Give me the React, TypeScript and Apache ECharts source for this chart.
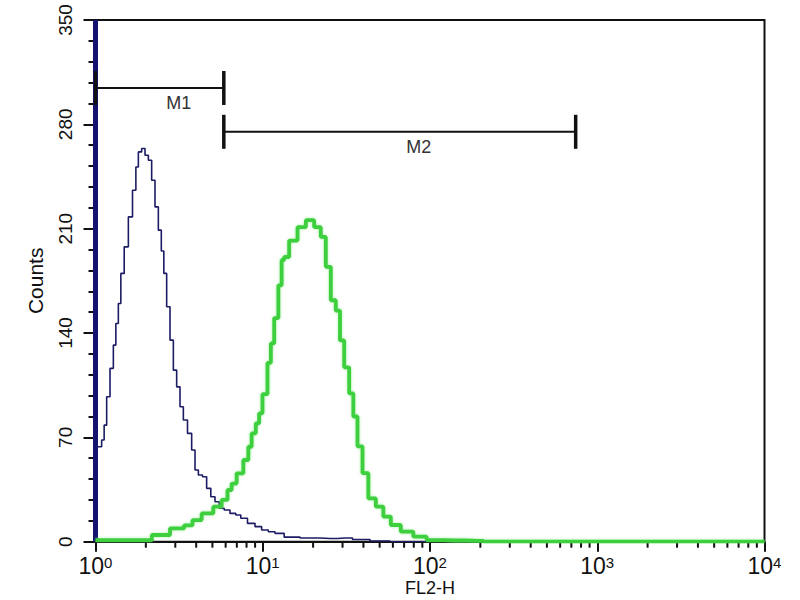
import React, { useEffect, useRef } from "react";
import * as echarts from "echarts";

// ---- data (channel value on FL2-H, counts) ----
const blueFirstChannel: [number, number][] = [
  [1, 0],
  [1, 350],
];

const blueCounts: [number, number][] = [
  [1.02, 63.7], [1.064, 63.7], [1.113, 68.2], [1.14, 78.2], [1.193, 97.2], [1.25, 116.3],
  [1.308, 131.9], [1.339, 146.4], [1.401, 159.8], [1.434, 180.0], [1.537, 197.8], [1.608, 217.9],
  [1.723, 235.8], [1.764, 251.4], [1.845, 261.5], [1.931, 263.8], [2.024, 259.3], [2.118, 255.9],
  [2.216, 242.5], [2.322, 224.6], [2.43, 209.0], [2.52, 195.0], [2.604, 180.0], [2.725, 157.6],
  [2.855, 135.2], [2.988, 115.1], [3.127, 103.9], [3.277, 90.5], [3.428, 81.6], [3.673, 72.7],
  [3.845, 61.5], [4.029, 48.1], [4.216, 44.7], [4.515, 43.6], [4.725, 35.8], [5.063, 30.2],
  [5.305, 26.8], [5.682, 22.4], [6.086, 21.3], [6.667, 19.0], [7.142, 17.9], [7.65, 15.7],
  [8.589, 12.3], [9.406, 10.1], [10.31, 7.8], [11.31, 6.7], [12.39, 5.6], [14.55, 3.1],
  [19.17, 2.5], [25.24, 2.1], [31.03, 2.5], [38.15, 1.5], [50.24, 0.5], [66.16, 0], [100, 0],
];

const greenCounts: [number, number][] = [
  [1, 1], [1.897, 1], [2.488, 4.5], [3.127, 9], [3.673, 11], [3.935, 14.5], [4.725, 19],
  [5.423, 23.5], [5.946, 28], [6.371, 34.7], [6.667, 39], [7.311, 45.9], [8.017, 54.8],
  [8.389, 63.7], [8.78, 72.7], [9.406, 79.4], [9.629, 86.1], [10.31, 99], [11.05, 120],
  [11.31, 133], [12.12, 150], [12.68, 172], [13.27, 189], [13.59, 191], [15.23, 202],
  [17.1, 211], [19.17, 215.7], [21.48, 211], [23.01, 204.5], [24.66, 184.4], [26.42, 162],
  [28.29, 155], [29.65, 135], [31.76, 117], [34.02, 99.5], [35.61, 84], [38.15, 64],
  [40.87, 46], [44.81, 29], [50.24, 23.5], [55.09, 16.8], [61.74, 11.2], [72.54, 6.7],
  [87.15, 3.4], [104.6, 1.1], [141, 0.8], [191, 0.6], [229, 0], [10000, 0],
];

// marker gates: [start, end, level]
const markerSpans: [number, number, number][] = [
  [1, 5.85, 304.4],
  [5.85, 743, 275],
];
const markerNames = ["M1", "M2"];

const xMinorTicks: number[] = [
  2, 3, 4, 5, 6, 7, 8, 9,
  20, 30, 40, 50, 60, 70, 80, 90,
  200, 300, 400, 500, 600, 700, 800, 900,
  2000, 3000, 4000, 5000, 6000, 7000, 8000, 9000,
];

const yMin = 0;
const yMax = 350;
const yInterval = 70;
const xMin = 1;
const xMax = 10000;

const FONT = '"Liberation Sans", Arial, sans-serif';
const INK = "#111111";

export default function App() {
  const ref = useRef<HTMLDivElement>(null);

  useEffect(() => {
    if (!ref.current) return;
    const chart = echarts.init(ref.current, undefined, { renderer: "svg" });

    const option: any = {
      animation: false,
      backgroundColor: "#ffffff",
      grid: {
        left: 95.5,
        right: 35.5,
        top: 20,
        bottom: 58.3,
        outerBoundsMode: "none",
        containLabel: false,
        show: true,
        borderColor: INK,
        borderWidth: 2,
        backgroundColor: "transparent",
      },
      xAxis: {
        type: "log",
        logBase: 10,
        min: xMin,
        max: xMax,
        name: "FL2-H",
        nameLocation: "middle",
        nameGap: 36,
        nameMoveOverlap: false,
        nameTextStyle: { fontFamily: FONT, fontSize: 18, color: INK, lineHeight: 20 },
        axisLine: { lineStyle: { color: INK, width: 2 } },
        axisTick: { length: 10, lineStyle: { color: INK, width: 2 } },
        splitLine: { show: false },
        axisLabel: {
          margin: 13,
          formatter: (v: number) => `{b|10}{s|${Math.round(Math.log10(v))}}`,
          rich: {
            b: { fontFamily: FONT, fontSize: 23, color: INK, lineHeight: 22 },
            s: { fontFamily: FONT, fontSize: 15, color: INK, verticalAlign: "top", lineHeight: 14 },
          },
        },
      },
      yAxis: {
        type: "value",
        min: yMin,
        max: yMax,
        interval: yInterval,
        name: "Counts",
        nameLocation: "middle",
        nameRotate: 90,
        nameGap: 50,
        nameMoveOverlap: false,
        nameTextStyle: { fontFamily: FONT, fontSize: 21, color: INK },
        axisLine: { show: true, lineStyle: { color: INK, width: 2 } },
        axisTick: { show: true, length: 12, lineStyle: { color: INK, width: 2 } },
        minorTick: { show: true, splitNumber: 5, length: 7, lineStyle: { color: INK, width: 2 } },
        splitLine: { show: false },
        minorSplitLine: { show: false },
        axisLabel: {
          rotate: 90,
          margin: 21,
          fontFamily: FONT,
          fontSize: 19,
          color: INK,
        },
      },
      series: [
        {
          type: "custom",
          name: "xMinorTicks",
          coordinateSystem: "cartesian2d",
          clip: false,
          silent: true,
          data: xMinorTicks.map((v) => [v, 0]),
          encode: { x: 0, y: 1 },
          renderItem: (params: any, api: any) => {
            const p = api.coord([api.value(0), 0]);
            return {
              type: "line",
              shape: { x1: p[0], y1: p[1], x2: p[0], y2: p[1] + 6 },
              style: { stroke: INK, lineWidth: 2 },
            };
          },
          z: 1,
        },
        {
          type: "line",
          name: "blue",
          data: blueCounts,
          step: "middle",
          showSymbol: false,
          lineStyle: { color: "#1c1c64", width: 1.6 },
          z: 3,
        },
        {
          type: "line",
          name: "blueFirst",
          data: blueFirstChannel,
          showSymbol: false,
          lineStyle: { color: "#14146e", width: 5 },
          z: 4,
        },
        {
          type: "line",
          name: "green",
          data: greenCounts,
          step: "middle",
          showSymbol: false,
          lineStyle: {
            color: "#3ccf3c",
            width: 3.8,
            shadowBlur: 3,
            shadowColor: "rgba(110,230,110,0.6)",
          },
          z: 5,
        },
        {
          type: "custom",
          name: "markers",
          coordinateSystem: "cartesian2d",
          clip: false,
          silent: true,
          data: markerSpans,
          encode: { x: [0, 1], y: 2 },
          renderItem: (params: any, api: any) => {
            const y = api.value(2);
            const p0 = api.coord([api.value(0), y]);
            const p1 = api.coord([api.value(1), y]);
            const h = 17;
            const label = markerNames[params.dataIndex];
            return {
              type: "group",
              children: [
                {
                  type: "line",
                  shape: { x1: p0[0], y1: p0[1], x2: p1[0], y2: p1[1] },
                  style: { stroke: INK, lineWidth: 2 },
                },
                {
                  type: "line",
                  shape: { x1: p0[0], y1: p0[1] - h, x2: p0[0], y2: p0[1] + h },
                  style: { stroke: INK, lineWidth: 3.5 },
                },
                {
                  type: "line",
                  shape: { x1: p1[0], y1: p1[1] - h, x2: p1[0], y2: p1[1] + h },
                  style: { stroke: INK, lineWidth: 3.5 },
                },
                {
                  type: "text",
                  x: (p0[0] + p1[0]) / 2 + 19,
                  y: p0[1] + 15,
                  style: {
                    text: label,
                    fill: "#333333",
                    fontFamily: FONT,
                    fontSize: 18,
                    align: "center",
                    verticalAlign: "middle",
                  },
                },
              ],
            };
          },
          z: 6,
        },
      ],
    };

    chart.setOption(option);
    return () => chart.dispose();
  }, []);

  return (
    <div
      ref={ref}
      style={{ position: "fixed", left: 0, top: 0, width: 800, height: 600, background: "#fff" }}
    />
  );
}
